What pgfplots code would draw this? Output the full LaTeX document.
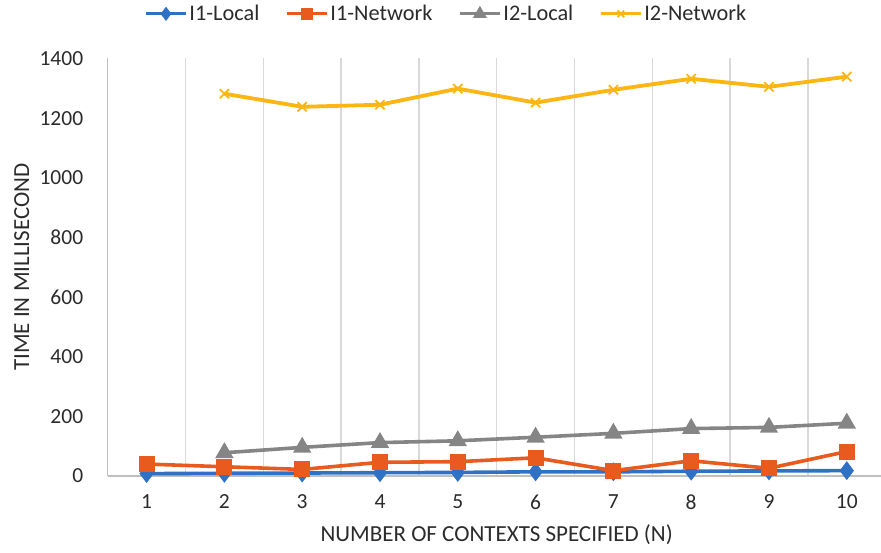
\documentclass[border=0pt]{standalone}
\usepackage{pgfplots}
\pgfplotsset{compat=1.18}
\usepackage{fontspec}
\setmainfont{Carlito}

\definecolor{cBlue}{HTML}{2F71C4}
\definecolor{cOrange}{HTML}{E85A1E}
\definecolor{cGray}{HTML}{858585}
\definecolor{cYellow}{HTML}{FBB614}
\definecolor{cGrid}{HTML}{D9D9D9}
\definecolor{cAxis}{HTML}{BFBFBF}
\definecolor{cText}{HTML}{2B2B2B}

\newcommand{\tickfont}{\fontsize{21.5}{25}\selectfont}
\newcommand{\labelfont}{\fontsize{23}{27}\selectfont}
\newcommand{\legendfont}{\fontsize{22.3}{26}\selectfont}

\begin{document}
\begin{tikzpicture}
\begin{axis}[
  scale only axis,
  width=773.3pt, height=417.5pt,
  xmin=0.5, xmax=10.44,
  ymin=0, ymax=1400,
  xtick={1,...,10},
  ytick={0,200,...,1400},
  minor xtick={1.5,2.5,...,9.5},
  xminorgrids=true,
  minor grid style={draw=cGrid, line width=1.3pt},
  major tick length=0pt, minor tick length=0pt,
  axis x line=bottom, axis y line=left,
  axis line style={draw=cAxis, line width=1.2pt, -},
  /pgf/number format/assume math mode=true,
  /pgf/number format/1000 sep={},
  tick label style={font=\tickfont, text=cText},
  yticklabel style={xshift=-21pt},
  xticklabel style={yshift=-15pt},
  clip=false,
  legend columns=4,
  legend style={
    at={(0.438,1.107)}, anchor=center, draw=none, fill=none,
    font=\legendfont, text=cText,
    /tikz/every even column/.append style={column sep=24pt},
    nodes={inner sep=2pt},
  },
  legend cell align=left,
  legend image code/.code={
    \draw[mark repeat=2, mark phase=2, line width=3pt, every mark/.append style={scale=0.72}]
      plot coordinates {(0pt,0pt) (20pt,0pt) (40pt,0pt)};
  },
]
\addplot[color=cBlue, line width=3.6pt, mark=diamond*, mark size=6.5pt, mark options={solid}]
  coordinates {(1,8) (2,9) (3,10) (4,11) (5,12) (6,14) (7,14) (8,16) (9,17) (10,18)};
\addlegendentry{I1-Local}
\addplot[color=cOrange, line width=3.6pt, mark=square*, mark size=6.2pt]
  coordinates {(1,40) (2,31) (3,22) (4,46) (5,48) (6,61) (7,18) (8,51) (9,26) (10,82)};
\addlegendentry{I1-Network}
\addplot[color=cGray, line width=3.6pt, mark=triangle*, mark size=7pt]
  coordinates {(2,78) (3,96) (4,112) (5,118) (6,130) (7,143) (8,159) (9,163) (10,177)};
\addlegendentry{I2-Local}
\addplot[color=cYellow, line width=3.8pt, mark=x, mark size=6.5pt, mark options={line width=1.8pt}]
  coordinates {(2,1282) (3,1238) (4,1245) (5,1299) (6,1252) (7,1295) (8,1332) (9,1305) (10,1339)};
\addlegendentry{I2-Network}

\coordinate (bl) at (rel axis cs:0,0);
\coordinate (tr) at (rel axis cs:1,1);
\node[font=\labelfont, text=cText, anchor=center] at ([yshift=-59pt]axis cs:5.5,0) {NUMBER OF CONTEXTS SPECIFIED (N)};
\node[font=\labelfont, text=cText, anchor=center, rotate=90] at ([xshift=-86pt]rel axis cs:0,0.5) {TIME IN MILLISECOND};
\end{axis}
\pgfresetboundingbox
\path ([xshift=-107.7pt,yshift=-76pt]bl) rectangle ([yshift=58.5pt]tr);
\end{tikzpicture}
\end{document}
